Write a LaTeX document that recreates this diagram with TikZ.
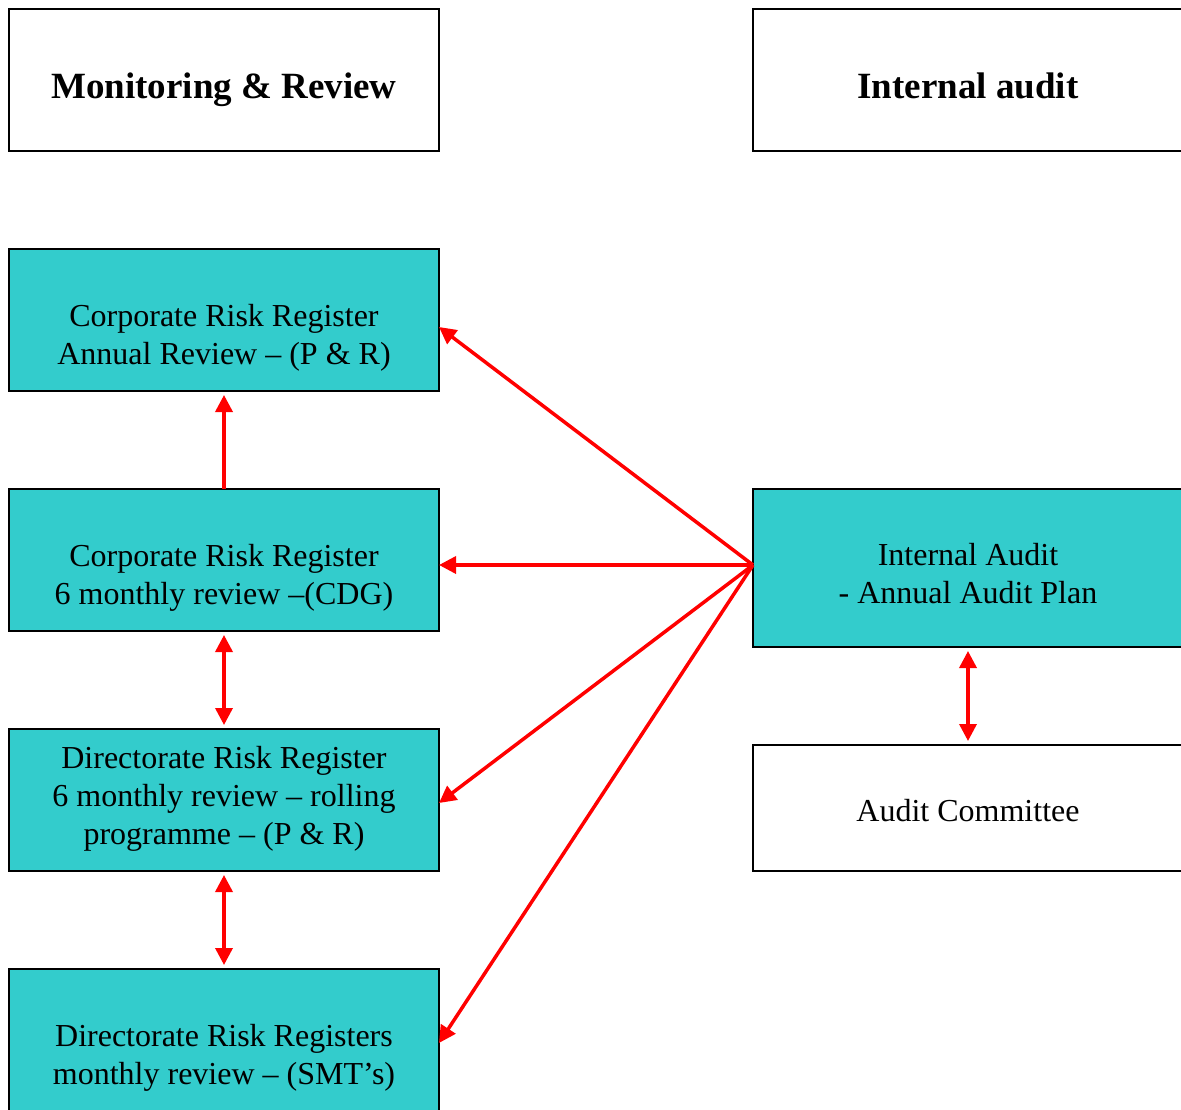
\documentclass[tikz,border=0pt]{standalone}
\usepackage{fontspec}
\setmainfont{Liberation Serif}
\usetikzlibrary{arrows.meta,positioning}
\definecolor{regcyan}{RGB}{51,204,204}
\definecolor{linkred}{RGB}{255,0,0}
\tikzset{
  rbox/.style  = {draw=black,line width=2pt,fill=regcyan,minimum width=430pt,
                  minimum height=142pt,inner sep=0pt,outer sep=0pt},
  wbox/.style  = {rbox,fill=white},
  htext/.style = {inner sep=0pt,text depth=0pt,font=\fontsize{37}{44}\selectfont\bfseries},
  btext/.style = {align=center,inner sep=0pt,font=\fontsize{32}{38}\selectfont},
  link/.style  = {-{Triangle[length=17pt,width=17pt]},line width=3.5pt,color=linkred},
  dlink/.style = {{Triangle[length=17pt,width=17pt]}-{Triangle[length=17pt,width=17pt]},
                  line width=3.5pt,color=linkred,shorten <=4pt,shorten >=4pt},
}
\begin{document}
\begin{tikzpicture}[x=1pt,y=-1pt]
  \clip (0,0) rectangle (1181,1110);
  % headings
  \node[wbox] (mon) at (224,80) {};
  \node[wbox] (iahead) at (968,80) {};
  \node[htext] (montxt) at ([yshift=-6pt]mon.center) {Monitoring \& Review};
  \node[htext] (iaheadtxt) at ([yshift=-6pt]iahead.center) {Internal audit};
  % registers
  \node[rbox,below=98pt of mon] (crr) {};
  \node[rbox,below=98pt of crr] (crrsix) {};
  \node[rbox,below=98pt of crrsix] (drr) {};
  \node[rbox,below=98pt of drr] (drrs) {};
  \node[btext] (crrtxt) at ([yshift=-18pt]crr.center)
    {Corporate Risk Register\\Annual Review -- (P \& R)};
  \node[btext] (crrsixtxt) at ([yshift=-18pt]crrsix.center)
    {Corporate Risk Register\\6 monthly review --(CDG)};
  \node[btext] (drrtxt) at ([yshift=1pt]drr.center)
    {Directorate Risk Register\\6 monthly review -- rolling\\programme -- (P \& R)};
  \node[btext] (drrstxt) at ([yshift=-18pt]drrs.center)
    {Directorate Risk Registers\\monthly review -- (SMT’s)};
  % audit side
  \node[rbox,minimum height=158pt] (iaa) at (968,568) {};
  \node[wbox,minimum height=126pt,below=98pt of iaa] (ac) {};
  \node[btext] (iaatxt) at ([yshift=-6pt]iaa.center)
    {Internal Audit\\- Annual Audit Plan};
  \node[btext] (actxt) at ([yshift=-3pt]ac.center) {Audit Committee};
  % links
  \coordinate (hub) at ([yshift=3pt]iaa.west);
  \draw[link] (hub) -- ([yshift=-7pt]crr.east);
  \draw[link] (hub) -- ([yshift=-5pt]crrsix.east);
  \draw[link] (hub) -- ([yshift=-3pt]drr.east);
  \draw[link] (hub) -- ([yshift=-3pt]drrs.east);
  \draw[link,shorten >=4pt] (crrsix.north) -- (crr.south);
  \draw[dlink] (crrsix.south) -- (drr.north);
  \draw[dlink] (drr.south) -- (drrs.north);
  \draw[dlink] (iaa.south) -- (ac.north);
\end{tikzpicture}
\end{document}
